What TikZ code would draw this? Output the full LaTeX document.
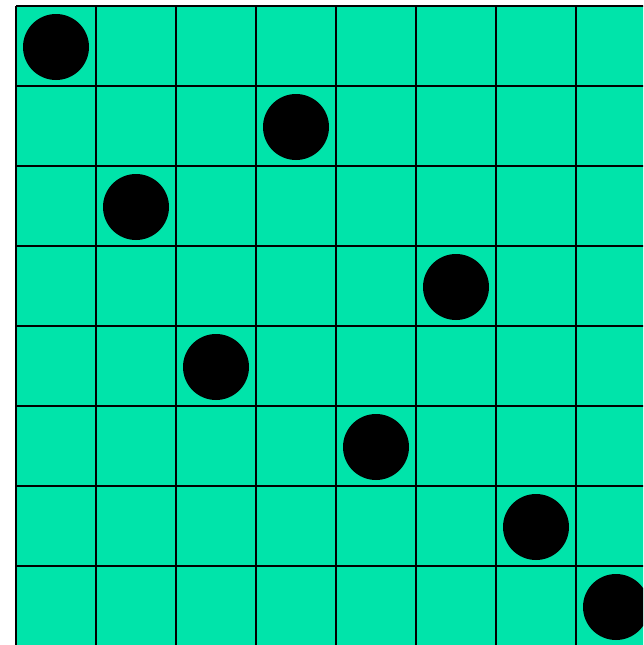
\documentclass[tikz,border=0pt]{standalone}
\usepackage{tikz}
\usetikzlibrary{positioning}
\definecolor{boardgreen}{RGB}{0,228,170}

\begin{document}
\begin{tikzpicture}[x=1pt,y=-1pt]
        % Tabuleiro 8x8 com as rainhas
        \useasboundingbox (0,0) rectangle (643,645);
        \clip (0,0) rectangle (643,645);
        \fill[boardgreen] (16,6) rectangle (656,646);
        \foreach \i in {0,...,8} {
            \draw[line width=2pt] (16+80*\i,6) -- (16+80*\i,646);
            \draw[line width=2pt] (16,6+80*\i) -- (656,6+80*\i);
        }
        \foreach \r/\c in {0/0,1/3,2/1,3/5,4/2,5/4,6/6,7/7} {
            \node[circle, fill=black, minimum size=66pt, inner sep=0pt] (q\r) at (56+80*\c,47+80*\r) {};
        }
    \end{tikzpicture}
\end{document}
